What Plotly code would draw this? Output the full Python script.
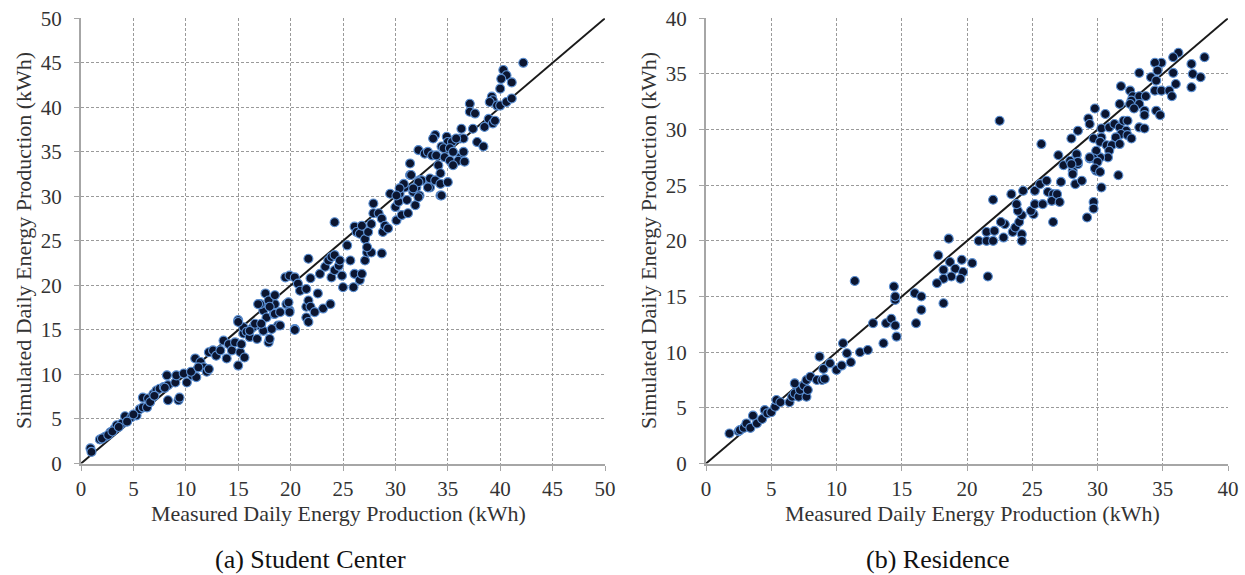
import plotly.graph_objects as go

# ---------------- data ----------------
# (a) Student Center: measured (x) vs simulated (y), kWh
sc_x = [0.9, 1.0, 1.8, 2.3, 2.8, 3.2, 3.4, 3.9, 4.2, 4.8, 5.3, 5.6, 5.9, 6.3, 5.9, 6.4, 6.9, 7.2, 7.5, 7.9,
        8.3, 8.3, 9.3, 9.4, 8.2, 9.0, 9.1, 9.8, 10.1, 10.6, 11.0, 10.9, 11.4, 11.7, 12.0, 12.2, 12.2, 12.6, 12.9, 13.3,
        13.6, 14.1, 14.4, 14.7, 13.9, 15.0, 15.2, 15.3, 15.5, 15.6, 15.0, 15.5, 15.8, 16.1, 16.4, 16.8, 17.1, 17.4, 17.9, 18.0,
        17.4, 17.7, 18.4, 18.8, 17.1, 17.9, 18.5, 19.6, 19.9, 20.4, 21.5, 21.5, 21.7, 23.1, 23.8,
        2.0, 2.6, 3.0, 3.6, 4.4, 5.0, 6.6, 7.0, 8.0, 10.5, 11.2,
        15.0, 16.1, 16.6, 17.2, 18.2, 19.0, 20.4, 16.9, 17.6, 17.9, 18.0, 18.5, 18.5, 19.0, 19.8, 19.9,
        19.5, 19.9, 20.4, 20.7, 20.9, 21.5, 21.9, 21.7, 21.9, 22.3, 22.6, 22.8, 23.3, 23.6, 23.9, 24.2,
        23.9, 24.2, 24.6, 24.7, 24.9, 25.0, 25.7, 26.0, 26.1, 26.6, 26.8, 27.1, 27.3, 27.7, 28.7, 21.7, 24.2,
        25.4, 26.1, 26.3, 26.6, 26.8, 27.1, 27.3, 27.4, 27.7, 27.9, 27.9, 28.4, 28.7, 28.8, 29.0, 29.3,
        29.5, 30.0, 30.1, 30.3, 30.4, 30.6, 30.9, 31.1, 31.2, 31.7, 31.9, 32.0, 32.3, 31.4, 31.4, 32.3, 33.3, 33.3, 34.3,
        42.2, 40.3, 40.6, 40.1, 41.1, 40.0, 39.2, 39.3, 39.0, 39.7, 40.0, 40.6, 41.1, 37.1, 37.1, 37.6,
        38.9, 38.5, 39.3, 39.5, 36.3, 37.4, 36.2, 36.5, 37.8, 38.4, 33.8, 33.6, 34.9, 35.0, 35.4, 35.8,
        34.4, 34.6, 35.2, 32.2, 32.8, 33.1, 33.5, 33.9, 34.7, 35.5, 36.2, 36.5, 35.2, 36.0, 36.6, 35.5, 34.1,
        31.5, 32.5, 33.3, 33.8, 34.3, 34.3, 35.0, 33.1, 32.2, 30.8, 30.4, 31.7, 32.2, 34.4, 30.1]
sc_y = [1.7, 1.3, 2.7, 3.0, 3.5, 3.9, 4.3, 4.5, 5.3, 5.2, 5.4, 6.1, 6.3, 6.3, 7.4, 7.3, 7.8, 8.2, 8.4, 8.6,
        8.8, 7.1, 7.1, 7.4, 9.9, 9.1, 9.9, 10.1, 9.1, 9.9, 9.7, 11.8, 11.4, 10.8, 10.3, 10.6, 12.5, 12.7, 12.1, 12.7,
        13.8, 13.4, 12.7, 13.6, 11.8, 11.0, 12.5, 13.4, 14.6, 11.9, 16.1, 15.3, 14.8, 14.2, 15.3, 14.0, 15.5, 14.9, 13.6, 14.0,
        17.2, 16.4, 16.8, 15.5, 17.9, 17.8, 17.9, 17.9, 17.2, 15.1, 17.6, 16.4, 15.9, 17.4, 17.9,
        2.8, 3.2, 3.6, 4.1, 4.7, 5.5, 6.9, 7.6, 8.5, 10.3, 10.8,
        15.9, 14.9, 15.7, 15.7, 15.1, 15.5, 15.0, 17.9, 19.1, 18.3, 17.6, 18.9, 16.8, 17.0, 18.1, 17.0,
        20.9, 21.1, 20.9, 20.2, 19.4, 19.6, 20.8, 18.3, 17.6, 17.0, 19.1, 21.3, 22.1, 22.8, 23.2, 23.4,
        20.9, 21.7, 22.2, 22.8, 21.1, 19.8, 22.8, 19.8, 21.3, 20.6, 21.3, 22.8, 23.7, 23.7, 23.6, 23.0, 27.1,
        24.5, 26.6, 26.0, 25.8, 26.7, 25.2, 24.3, 26.0, 26.9, 28.1, 29.2, 28.1, 27.5, 26.0, 26.7, 26.4,
        30.3, 28.8, 27.3, 29.4, 30.3, 27.9, 31.0, 29.6, 28.1, 30.5, 29.0, 31.0, 30.1, 33.7, 32.4, 31.8, 31.8, 31.0, 30.1,
        45.0, 44.2, 43.6, 43.2, 42.8, 42.1, 41.2, 40.8, 40.6, 40.2, 40.2, 40.6, 41.0, 40.4, 39.5, 39.3,
        38.7, 37.8, 38.2, 38.5, 37.6, 37.6, 36.5, 36.5, 36.1, 35.6, 36.9, 36.5, 36.7, 36.1, 36.1, 36.5,
        35.6, 35.4, 35.4, 35.2, 34.8, 35.0, 34.6, 34.6, 34.4, 35.0, 34.4, 35.0, 34.0, 34.0, 33.9, 33.5, 33.5,
        32.4, 31.8, 32.0, 31.8, 32.6, 31.4, 31.6, 31.0, 31.6, 31.4, 30.9, 30.9, 29.9, 30.1, 30.1]

# (b) Residence: measured (x) vs simulated (y), kWh
res_x = [1.8, 2.5, 2.6, 2.9, 3.1, 3.4, 3.6, 3.9, 4.3, 4.5, 4.7, 5.0, 5.3, 5.4, 5.7, 6.4, 6.6, 6.8, 7.1, 7.2,
         7.5, 6.8, 7.7, 7.8, 7.7, 8.0, 8.5, 8.7, 8.9, 9.0, 9.1, 9.5, 10.0, 10.4, 10.5, 10.8, 11.1, 11.8, 12.4, 12.8,
         13.8, 14.2, 14.5, 14.6, 13.6, 16.1, 16.5, 18.2, 14.5,
         14.4, 14.5, 16.0, 16.5, 18.6, 17.8, 18.2, 18.7, 19.1, 19.6, 19.7, 19.5, 18.8, 18.2, 17.7, 20.4, 21.6,
         20.9, 21.5, 21.5, 22.0, 22.1, 22.8, 22.9, 22.6, 23.5, 23.7, 24.2, 24.2, 24.0, 24.2, 23.9, 23.8, 23.4, 24.3,
         22.0, 25.1, 24.9, 25.2, 25.2, 25.6, 26.1, 25.8, 26.2, 26.6, 26.5, 26.9, 27.1, 26.6, 27.2, 27.0, 27.4,
         27.9, 28.1, 28.4, 28.5, 28.3, 28.8, 29.7, 29.7, 29.2, 29.4, 29.9, 22.5, 11.4,
         38.2, 36.2, 35.8, 37.2, 37.3, 37.9, 37.2, 36.0, 35.8, 34.9, 34.4, 34.6, 33.2, 34.1, 34.5, 34.4, 34.9, 35.5, 35.7,
         31.8, 32.5, 32.7, 32.6, 33.2, 33.7, 31.7, 32.5, 33.2, 32.8, 33.6, 33.6, 34.5, 34.8, 29.8, 30.6, 29.3, 29.4,
         28.5, 28.0, 30.3, 30.9, 31.3, 31.7, 32.0, 32.3, 32.2, 31.8, 31.4, 30.3, 29.7, 30.2, 30.7, 31.1, 31.7, 32.3,
         32.6, 33.2, 33.6, 30.9, 30.8, 30.2, 29.9, 29.7, 29.4, 30.0, 29.8, 30.2, 28.4, 28.5, 28.0, 28.1, 31.6, 30.3, 25.7]
res_y = [2.7, 2.9, 3.0, 3.2, 3.6, 3.2, 4.3, 3.6, 4.0, 4.8, 4.5, 4.6, 5.1, 5.7, 5.5, 5.5, 6.0, 6.3, 6.0, 6.6,
         7.0, 7.2, 6.0, 6.6, 7.5, 7.8, 7.5, 9.6, 7.5, 8.5, 7.6, 9.0, 8.4, 8.8, 10.8, 9.9, 9.1, 10.0, 10.2, 12.6,
         12.6, 13.0, 12.4, 11.4, 10.8, 12.6, 13.8, 14.4, 14.7,
         15.9, 15.0, 15.3, 15.0, 20.2, 18.7, 17.4, 18.1, 17.5, 18.3, 17.2, 16.6, 16.8, 16.6, 16.2, 18.0, 16.8,
         20.0, 20.8, 20.0, 20.0, 20.9, 20.3, 21.5, 21.7, 20.8, 21.2, 20.6, 20.0, 21.7, 22.3, 22.7, 23.3, 24.2, 24.5,
         23.7, 22.4, 22.7, 23.3, 24.5, 25.1, 25.4, 23.3, 24.4, 24.2, 23.6, 24.2, 23.5, 21.7, 25.3, 27.7, 26.8,
         27.2, 26.3, 27.7, 26.9, 25.1, 25.4, 23.5, 22.9, 22.1, 27.4, 26.3, 30.8, 16.4,
         36.5, 36.9, 36.5, 35.9, 35.0, 34.7, 33.8, 34.1, 35.1, 36.0, 36.0, 35.3, 35.1, 34.7, 34.4, 33.5, 33.5, 33.5, 33.0,
         33.9, 33.5, 33.0, 32.6, 33.0, 33.0, 32.3, 32.3, 32.3, 31.9, 31.7, 31.3, 31.7, 31.3, 31.9, 31.4, 31.0, 30.5,
         29.9, 29.2, 30.1, 30.2, 30.5, 30.2, 30.8, 30.8, 29.9, 29.6, 29.3, 29.3, 29.2, 28.9, 28.6, 28.6, 28.7, 29.5,
         29.2, 30.2, 30.1, 28.1, 27.5, 27.5, 28.1, 27.4, 27.5, 27.1, 26.5, 26.2, 27.8, 27.1, 26.9, 26.0, 25.9, 24.8, 28.7]

# 1:1 reference lines
sc_line = [0, 50]
res_line = [0, 40]

sc_ticks = [0, 5, 10, 15, 20, 25, 30, 35, 40, 45, 50]
res_ticks = [0, 5, 10, 15, 20, 25, 30, 35, 40]

x_title = "Measured Daily Energy Production (kWh)"
y_title = "Simulated Daily Energy Production (kWh)"
captions = ["(a) Student Center", "(b) Residence"]

# ---------------- figure ----------------
W, H = 1245, 575
FONT = "Liberation Serif, Times New Roman, serif"
TXT = "#333333"

marker = dict(size=9, color="#0b1530", line=dict(color="#5b8fd2", width=1.1))

fig = go.Figure()
fig.add_trace(go.Scatter(x=sc_line, y=sc_line, mode="lines",
                         line=dict(color="#1a1a1a", width=2), xaxis="x", yaxis="y", showlegend=False))
fig.add_trace(go.Scatter(x=sc_x, y=sc_y, mode="markers", marker=marker,
                         xaxis="x", yaxis="y", showlegend=False))
fig.add_trace(go.Scatter(x=res_line, y=res_line, mode="lines",
                         line=dict(color="#1a1a1a", width=2), xaxis="x2", yaxis="y2", showlegend=False))
fig.add_trace(go.Scatter(x=res_x, y=res_y, mode="markers", marker=marker,
                         xaxis="x2", yaxis="y2", showlegend=False))

def px(v):
    return v / W

def py(v):
    return 1 - v / H

ydom = [py(463.5), py(18.3)]

axis_common = dict(
    showgrid=True, gridcolor="#9a9a9a", gridwidth=1, griddash="3px,2px",
    showline=True, linecolor="#a6a6a6", linewidth=2,
    ticks="outside", ticklen=5, tickcolor="#a6a6a6", tickwidth=1,
    zeroline=False, automargin=False,
    tickfont=dict(family=FONT, size=21, color=TXT),
)

fig.update_layout(
    width=W, height=H,
    margin=dict(l=0, r=0, t=0, b=0, autoexpand=False),
    paper_bgcolor="white", plot_bgcolor="white",
    font=dict(family=FONT, color=TXT),
    xaxis=dict(domain=[px(81), px(605)], range=[0, 50], tickvals=sc_ticks, anchor="y", **axis_common),
    yaxis=dict(domain=ydom, range=[0, 50], tickvals=sc_ticks, anchor="x", ticklabelstandoff=8, **axis_common),
    xaxis2=dict(domain=[px(706), px(1228)], range=[0, 40], tickvals=res_ticks, anchor="y2", **axis_common),
    yaxis2=dict(domain=ydom, range=[0, 40], tickvals=res_ticks, anchor="x2", ticklabelstandoff=8, **axis_common),
)

ann = []
for cx in (338, 972):
    ann.append(dict(text=x_title, x=px(cx), y=py(513), xref="paper", yref="paper",
                    showarrow=False, xanchor="center", yanchor="middle",
                    font=dict(family=FONT, size=22, color=TXT)))
for cx in (23, 648):
    ann.append(dict(text=y_title, x=px(cx), y=py(241), xref="paper", yref="paper",
                    showarrow=False, xanchor="center", yanchor="middle", textangle=-90,
                    font=dict(family=FONT, size=22, color=TXT)))
for cx, cap in zip((310, 938), captions):
    ann.append(dict(text=cap, x=px(cx), y=py(559), xref="paper", yref="paper",
                    showarrow=False, xanchor="center", yanchor="middle",
                    font=dict(family=FONT, size=26, color="#111111")))
fig.update_layout(annotations=ann)

fig.write_html("out.html", config={"displayModeBar": False})
with open("out.html", "r", encoding="utf-8") as f:
    html = f.read()
html = html.replace("<head>", "<head><style>html,body{margin:0;padding:0;}</style>", 1)
with open("out.html", "w", encoding="utf-8") as f:
    f.write(html)
